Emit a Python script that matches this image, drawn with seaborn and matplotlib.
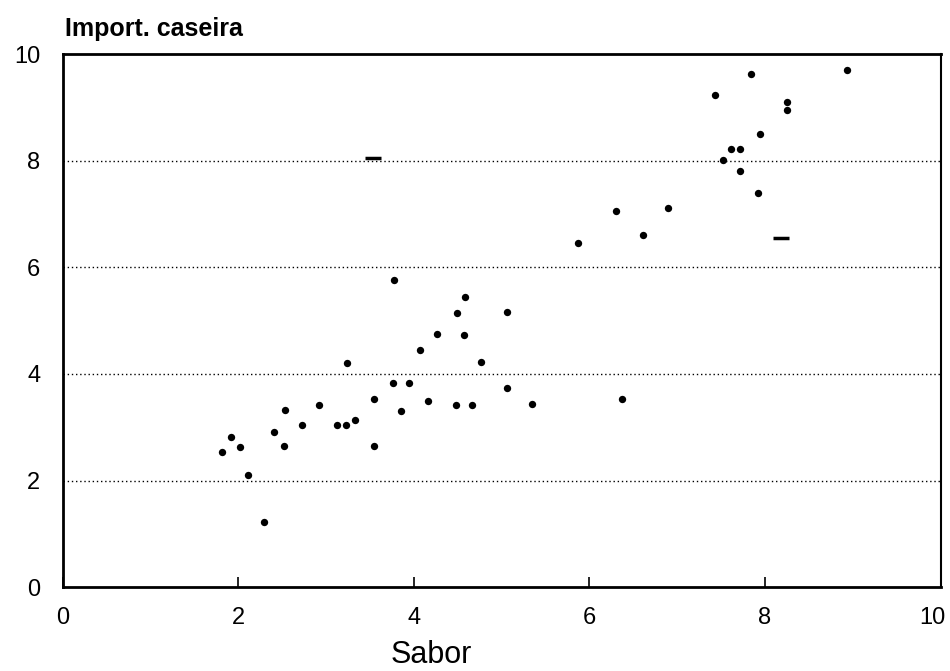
import matplotlib
matplotlib.use("Agg")
import matplotlib.pyplot as plt
import matplotlib.transforms as mtransforms
import seaborn as sns
import pandas as pd

sabor = [1.81, 1.92, 2.02, 2.11, 2.29, 2.41, 2.53, 2.52, 2.73, 2.92,
         3.13, 3.23, 3.24, 3.33, 3.55, 3.55, 3.77, 3.76, 3.85, 3.95,
         4.07, 4.16, 4.26, 4.49, 4.48, 4.58, 4.57, 4.66, 4.77, 5.06,
         5.06, 5.35, 5.87, 6.30, 6.37, 6.61, 6.90, 7.43, 7.52, 7.61,
         7.72, 7.72, 7.84, 7.94, 7.92, 8.25, 8.25, 8.94]
caseira = [2.53, 2.81, 2.63, 2.11, 1.22, 2.91, 3.33, 2.64, 3.04, 3.42,
           3.04, 3.04, 4.21, 3.14, 3.53, 2.64, 5.76, 3.82, 3.31, 3.83,
           4.45, 3.50, 4.74, 5.15, 3.41, 5.45, 4.72, 3.41, 4.22, 5.16,
           3.74, 3.43, 6.45, 7.05, 3.52, 6.61, 7.12, 9.24, 8.01, 8.22,
           8.22, 7.81, 9.62, 8.50, 7.40, 9.10, 8.95, 9.70]
dash_x = [3.53, 8.18]
dash_y = [8.05, 6.55]

xticks = [0, 2, 4, 6, 8, 10]
yticks = [0, 2, 4, 6, 8, 10]

df = pd.DataFrame({"Sabor": sabor, "Import. caseira": caseira})

sns.set_style("white")
plt.rcParams["font.family"] = ["Liberation Sans", "DejaVu Sans"]
plt.rcParams["text.color"] = "black"
plt.rcParams["xtick.color"] = "black"
plt.rcParams["ytick.color"] = "black"
plt.rcParams["axes.labelcolor"] = "black"

fig = plt.figure(figsize=(9.5, 6.71), dpi=100)
ax = fig.add_axes([0.066, 0.125, 0.924, 0.7945])

for yv in [2, 4, 6, 8]:
    ax.axhline(yv, color="black", linestyle=(0, (1, 2)), linewidth=1.0, zorder=1)

sns.scatterplot(data=df, x="Sabor", y="Import. caseira", ax=ax,
                color="black", s=28, edgecolor="black", linewidth=0, zorder=3)
ax.scatter(dash_x, dash_y, marker="_", s=120, color="black", linewidths=2.5, zorder=3)

ax.set_xlim(0, 10)
ax.set_ylim(0, 10)
ax.set_xticks(xticks)
ax.set_yticks(yticks)
ax.set_xticklabels([str(t) for t in xticks], fontsize=17)
ax.set_yticklabels([str(t) for t in yticks], fontsize=17)
ax.tick_params(axis="x", direction="in", length=7, width=1.2, pad=14, bottom=True)
ax.tick_params(axis="y", length=0, pad=16, left=False)
last = ax.get_xticklabels()[-1]
last.set_transform(last.get_transform() +
                   mtransforms.ScaledTranslation(-8 / 100, 0, fig.dpi_scale_trans))
for s in ax.spines.values():
    s.set_visible(True)
    s.set_color("black")
    s.set_linewidth(2.0)
ax.spines["right"].set_linewidth(1.5)

ax.set_xlabel("Sabor", fontsize=22, labelpad=2)
ax.xaxis.set_label_coords(0.42, -0.1)
ax.xaxis.label.set_va("top")
ax.set_ylabel("")
ax.text(0.003, 1.025, "Import. caseira", transform=ax.transAxes, fontsize=18,
        ha="left", va="bottom", fontweight="bold")

fig.savefig("out.png", dpi=100)
